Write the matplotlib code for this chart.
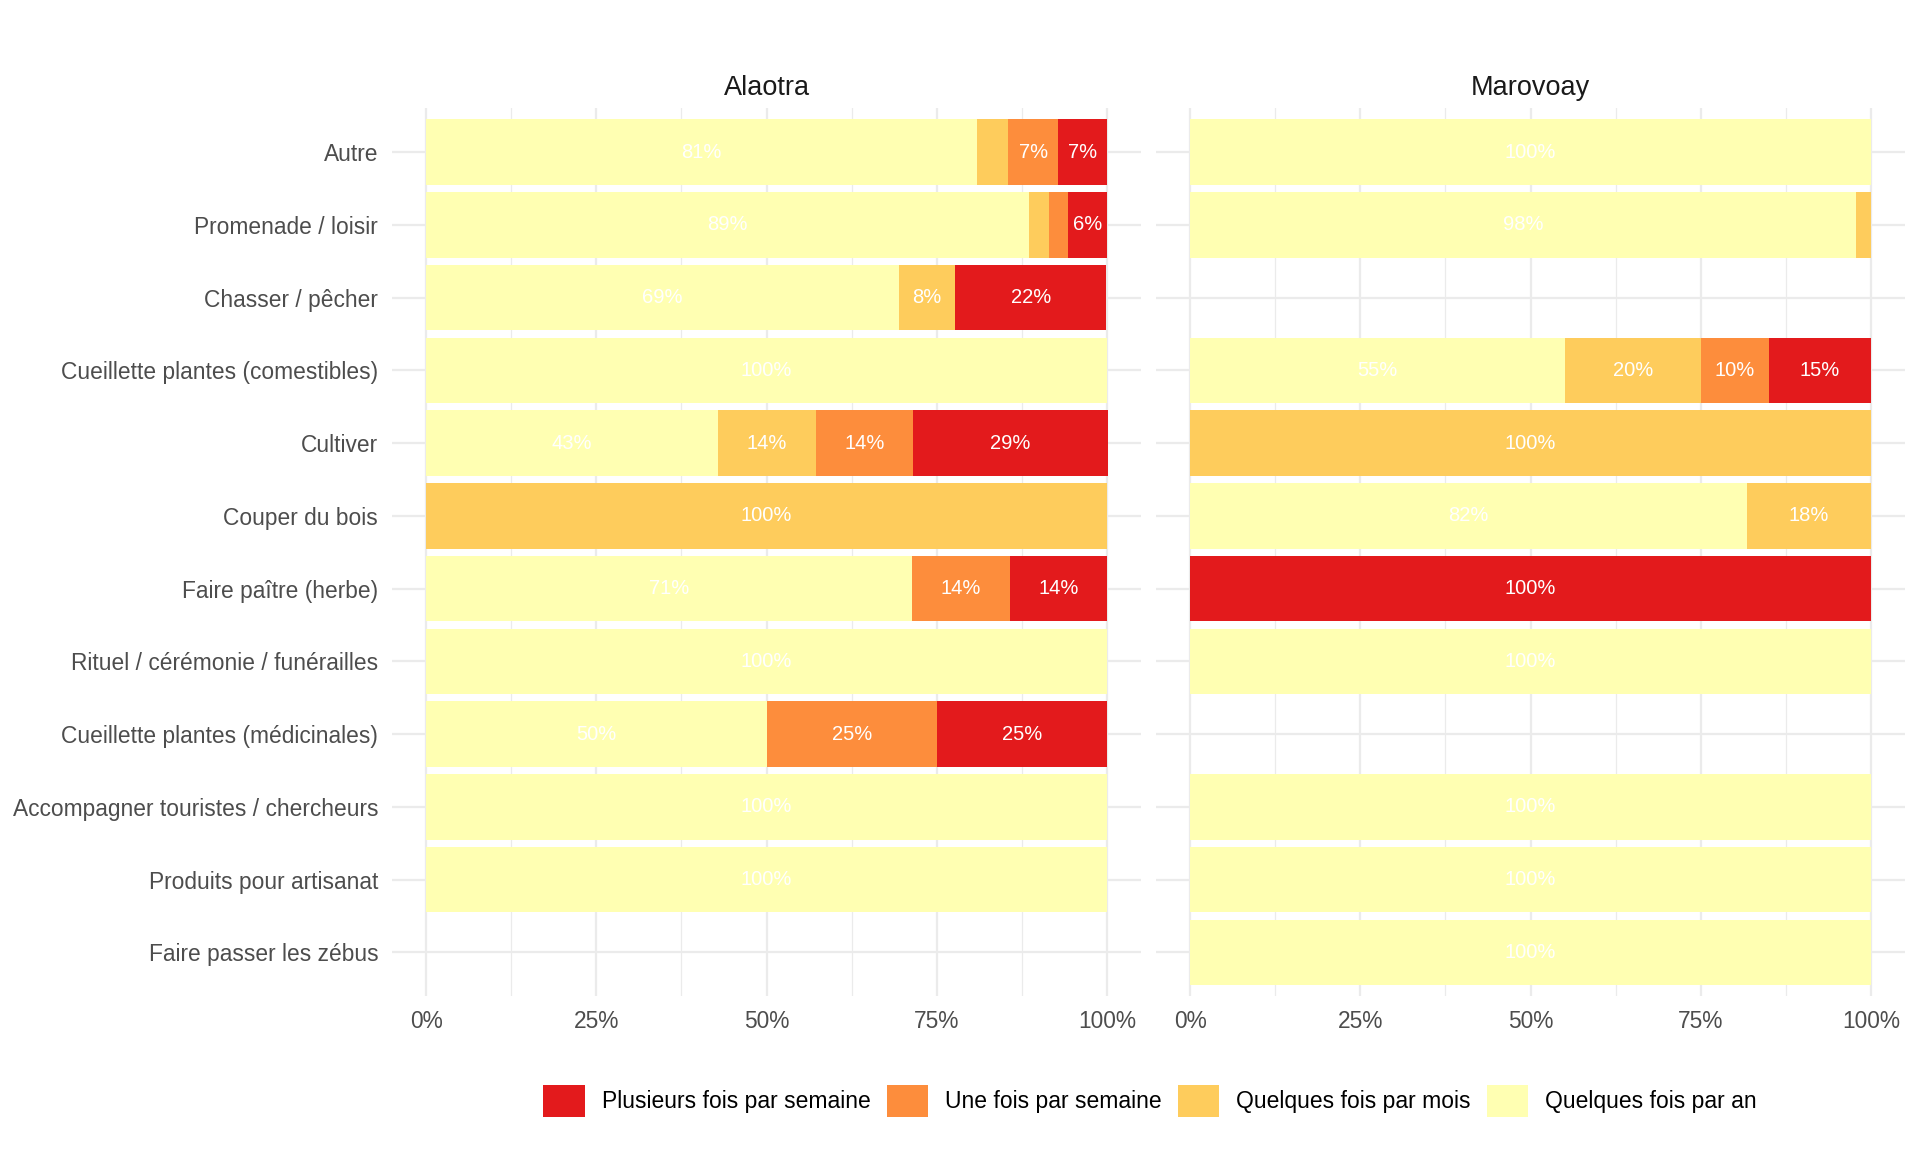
import numpy as np
import matplotlib
matplotlib.use("Agg")
import matplotlib.pyplot as plt
from matplotlib.patches import Patch

plt.rcParams['font.family'] = ['Liberation Sans', 'DejaVu Sans']

categories = ["Autre", "Promenade / loisir", "Chasser / pêcher",
              "Cueillette plantes (comestibles)", "Cultiver", "Couper du bois",
              "Faire paître (herbe)", "Rituel / cérémonie / funérailles",
              "Cueillette plantes (médicinales)", "Accompagner touristes / chercheurs",
              "Produits pour artisanat", "Faire passer les zébus"]

regions = ["Alaotra", "Marovoay"]

freq_labels = ["Quelques fois par an", "Quelques fois par mois",
               "Une fois par semaine", "Plusieurs fois par semaine"]
freq_colors = ["#FFFFB2", "#FECC5C", "#FD8D3C", "#E31A1C"]

nan = np.nan
# Alaotra (percent)
alaotra_an      = [80.9, 88.6, 69.4, 100, 42.9, 0,   71.4, 100, 50, 100, 100, nan]
alaotra_mois    = [4.6,  2.9,  8.3,  0,   14.3, 100, 0,    0,   0,  0,   0,   nan]
alaotra_semaine = [7.3,  2.8,  0,    0,   14.3, 0,   14.3, 0,   25, 0,   0,   nan]
alaotra_plus    = [7.2,  5.7,  22.2, 0,   28.6, 0,   14.3, 0,   25, 0,   0,   nan]

# Marovoay (percent)
marovoay_an      = [100, 97.8, nan, 55, 0,   81.8, 0,   100, nan, 100, 100, 100]
marovoay_mois    = [0,   2.2,  nan, 20, 100, 18.2, 0,   0,   nan, 0,   0,   0]
marovoay_semaine = [0,   0,    nan, 10, 0,   0,    0,   0,   nan, 0,   0,   0]
marovoay_plus    = [0,   0,    nan, 15, 0,   0,    100, 0,   nan, 0,   0,   0]

data = {
    "Alaotra": [alaotra_an, alaotra_mois, alaotra_semaine, alaotra_plus],
    "Marovoay": [marovoay_an, marovoay_mois, marovoay_semaine, marovoay_plus],
}

label_threshold = 5.0

fig = plt.figure(figsize=(19.2, 11.52), dpi=100)
axes_pos = [[0.2042, 0.1354, 0.3901, 0.7705], [0.6021, 0.1354, 0.3901, 0.7705]]
n = len(categories)
ypos = np.arange(n)
grid_major = "#EBEBEB"

for k, reg in enumerate(regions):
    ax = fig.add_axes(axes_pos[k])
    series = data[reg]
    for i in range(n):
        left = 0.0
        for s, vals in enumerate(series):
            v = vals[i]
            if v is None or np.isnan(v) or v <= 0:
                continue
            ax.barh(ypos[i], v / 100.0, left=left, height=0.9,
                    color=freq_colors[s], edgecolor='none', zorder=2)
            if v >= label_threshold:
                ax.text(left + v / 200.0, ypos[i], f"{round(v):.0f}%",
                        ha='center', va='center', color='white',
                        fontsize=14.5, zorder=3)
            left += v / 100.0
    ax.set_xlim(-0.05, 1.05)
    ax.set_ylim(n - 1 + 0.6, -0.6)
    ax.set_yticks(ypos)
    ax.set_xticks([0, 0.25, 0.5, 0.75, 1.0])
    ax.set_xticklabels(["0%", "25%", "50%", "75%", "100%"])
    ax.set_xticks([0.125, 0.375, 0.625, 0.875], minor=True)
    if k == 0:
        ax.set_yticklabels(categories)
    else:
        ax.set_yticklabels([])
    ax.tick_params(axis='both', which='both', length=0, labelsize=16.4,
                   labelcolor="#4D4D4D")
    ax.tick_params(axis='y', pad=10)
    ax.tick_params(axis='x', pad=10)
    for sp in ax.spines.values():
        sp.set_visible(False)
    ax.grid(True, which='major', color=grid_major, linewidth=1.6, zorder=0)
    ax.grid(True, which='minor', axis='x', color=grid_major, linewidth=0.9, zorder=0)
    ax.set_axisbelow(True)
    ax.set_title(reg, fontsize=19.5, color="#1A1A1A", pad=10)

handles = [Patch(facecolor=freq_colors[i], edgecolor='none', label=freq_labels[i])
           for i in [3, 2, 1, 0]]
fig.legend(handles=handles, loc='center', bbox_to_anchor=(0.599, 0.0445), ncol=4,
           frameon=False, fontsize=16.5, handlelength=1.8, handleheight=1.8,
           handletextpad=0.75, columnspacing=0.7, borderaxespad=0)

fig.savefig("out.png", dpi=100, facecolor='white')
